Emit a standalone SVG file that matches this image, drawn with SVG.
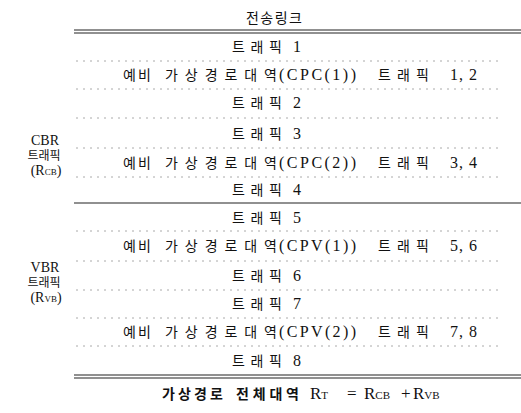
<svg xmlns="http://www.w3.org/2000/svg" width="521" height="413" viewBox="0 0 521 413">
<style>
text{font-family:"Liberation Serif","Noto Sans CJK KR",serif;fill:#111;font-size:15px}
.c{text-anchor:middle}
.b{font-weight:bold}
.k{font-family:"Noto Sans CJK KR","Liberation Sans",sans-serif;font-size:14px}
.l{font-size:16px;letter-spacing:1px}
.m{font-size:17px}
.s{font-size:14px}
.ks{font-size:12px}
.sub{font-size:11px;letter-spacing:0}
.sub9{font-size:9px}
.dot{stroke:#aaa;stroke-width:1;stroke-dasharray:2 5;fill:none}
.sol{stroke:#222;stroke-width:1.2;fill:none}
</style>
<rect width="521" height="413" fill="#fff"/>
<g id="connectors">
<line class="sol" x1="74" y1="30" x2="521" y2="30"/>
<line class="sol" x1="74" y1="33" x2="521" y2="33"/>
<line class="dot" x1="76" y1="61" x2="500" y2="61"/>
<line class="dot" x1="76" y1="89" x2="500" y2="89"/>
<line class="dot" x1="76" y1="118" x2="500" y2="118"/>
<line class="dot" x1="76" y1="148" x2="500" y2="148"/>
<line class="dot" x1="76" y1="177" x2="500" y2="177"/>
<line class="sol" x1="74" y1="203" x2="521" y2="203"/>
<line class="dot" x1="76" y1="231" x2="500" y2="231"/>
<line class="dot" x1="76" y1="261" x2="500" y2="261"/>
<line class="dot" x1="76" y1="290" x2="500" y2="290"/>
<line class="dot" x1="76" y1="318" x2="500" y2="318"/>
<line class="dot" x1="76" y1="346" x2="500" y2="346"/>
<line class="sol" x1="74" y1="375" x2="521" y2="375"/>
<line class="sol" x1="74" y1="378" x2="521" y2="378"/>
</g>
<g id="title"><text class="k" x="246" y="23" textLength="56" lengthAdjust="spacing">전송링크</text></g>
<g id="t1"><text class="k" x="232" y="52" textLength="50" lengthAdjust="spacing">트래픽</text><text class="l" x="293" y="52">1</text></g>
<g id="cpc1"><text class="k" x="123" y="80" textLength="28" lengthAdjust="spacing">예비</text><text class="k" x="165" y="80" textLength="112" lengthAdjust="spacing">가상경로대역</text><text class="l" x="279" y="80" textLength="78" lengthAdjust="spacing">(CPC(1))</text><text class="k" x="378" y="80" textLength="51" lengthAdjust="spacing">트래픽</text><text class="l" x="450" y="80">1,  2</text></g>
<g id="t2"><text class="k" x="232" y="108" textLength="50" lengthAdjust="spacing">트래픽</text><text class="l" x="293" y="108">2</text></g>
<g id="t3"><text class="k" x="232" y="139" textLength="50" lengthAdjust="spacing">트래픽</text><text class="l" x="293" y="139">3</text></g>
<g id="cpc2"><text class="k" x="123" y="168" textLength="28" lengthAdjust="spacing">예비</text><text class="k" x="165" y="168" textLength="112" lengthAdjust="spacing">가상경로대역</text><text class="l" x="279" y="168" textLength="78" lengthAdjust="spacing">(CPC(2))</text><text class="k" x="378" y="168" textLength="51" lengthAdjust="spacing">트래픽</text><text class="l" x="450" y="168">3,  4</text></g>
<g id="t4"><text class="k" x="232" y="195" textLength="50" lengthAdjust="spacing">트래픽</text><text class="l" x="293" y="195">4</text></g>
<g id="t5"><text class="k" x="232" y="223" textLength="50" lengthAdjust="spacing">트래픽</text><text class="l" x="293" y="223">5</text></g>
<g id="cpv1"><text class="k" x="123" y="251" textLength="28" lengthAdjust="spacing">예비</text><text class="k" x="165" y="251" textLength="112" lengthAdjust="spacing">가상경로대역</text><text class="l" x="279" y="251" textLength="78" lengthAdjust="spacing">(CPV(1))</text><text class="k" x="378" y="251" textLength="51" lengthAdjust="spacing">트래픽</text><text class="l" x="450" y="251">5,  6</text></g>
<g id="t6"><text class="k" x="232" y="281" textLength="50" lengthAdjust="spacing">트래픽</text><text class="l" x="293" y="281">6</text></g>
<g id="t7"><text class="k" x="232" y="309" textLength="50" lengthAdjust="spacing">트래픽</text><text class="l" x="293" y="309">7</text></g>
<g id="cpv2"><text class="k" x="123" y="337" textLength="28" lengthAdjust="spacing">예비</text><text class="k" x="165" y="337" textLength="112" lengthAdjust="spacing">가상경로대역</text><text class="l" x="279" y="337" textLength="78" lengthAdjust="spacing">(CPV(2))</text><text class="k" x="378" y="337" textLength="51" lengthAdjust="spacing">트래픽</text><text class="l" x="450" y="337">7,  8</text></g>
<g id="t8"><text class="k" x="232" y="366" textLength="50" lengthAdjust="spacing">트래픽</text><text class="l" x="293" y="366">8</text></g>
<g id="cbr">
<text class="c s" x="45" y="145">CBR</text>
<text class="k ks c" x="44" y="160">트래픽</text>
<text class="c s" x="46" y="175">(R<tspan class="sub9">CB</tspan>)</text>
</g>
<g id="vbr">
<text class="c s" x="45" y="272">VBR</text>
<text class="k ks c" x="44" y="287">트래픽</text>
<text class="c s" x="46" y="302">(R<tspan class="sub9">VB</tspan>)</text>
</g>
<g id="total">
<text class="k b" x="162" y="399" textLength="61" lengthAdjust="spacing">가상경로</text>
<text class="k b" x="236" y="399" textLength="63" lengthAdjust="spacing">전체대역</text>
<text class="m" x="310" y="399">R<tspan class="sub">T</tspan></text>
<text class="m" x="347" y="399">=</text>
<text class="m" x="364" y="399">R<tspan class="sub">CB</tspan></text>
<text class="m" x="401" y="399">+</text>
<text class="m" x="413" y="399">R<tspan class="sub">VB</tspan></text>
</g>
</svg>
